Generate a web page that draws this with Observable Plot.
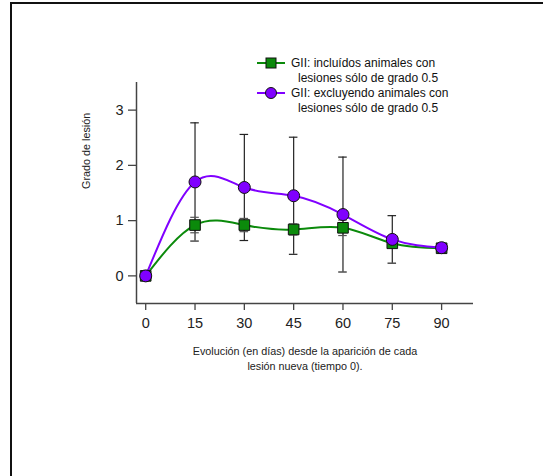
<!DOCTYPE html>
<html>
<head>
<meta charset="utf-8">
<script src="https://cdn.jsdelivr.net/npm/d3@7"></script>
<script src="https://cdn.jsdelivr.net/npm/@observablehq/plot@0.6"></script>
<style>
  html, body { margin: 0; padding: 0; background: #fff; }
  #wrap { position: relative; width: 543px; height: 476px; overflow: hidden; font-family: "Liberation Sans", Arial, sans-serif; }
  #frame { position: absolute; left: 10px; top: 2px; width: 600px; height: 600px; border-top: 2px solid #111; border-left: 2px solid #111; box-sizing: border-box; }
  #legend { position: absolute; left: 0; top: 0; font-size: 12px; color: #111; }
  .li { position: absolute; white-space: nowrap; line-height: 13px; height: 13px; }
  .sw { position: absolute; }
  #chart { position: absolute; left: 0; top: 0; }
</style>
</head>
<body>
<div id="wrap">
  <div id="chart"></div>
  <div id="frame"></div>
  <div id="legend"></div>
</div>
<script>
// ---- data ----
const days = [0, 15, 30, 45, 60, 75, 90];
const incluidos = [0, 0.92, 0.92, 0.84, 0.87, 0.59, 0.50];
const incluidosErr = [0, 0.14, 0.12, 0.10, 0.14, 0.06, 0];
const excluyendo = [0, 1.70, 1.60, 1.45, 1.11, 0.66, 0.51];
const excluyendoErr = [0, 1.07, 0.96, 1.06, 1.04, 0.43, 0];
const xTicks = [0, 15, 30, 45, 60, 75, 90];
const yTicks = [0, 1, 2, 3];
const seriesNames = ["GII: incluídos animales con\nlesiones sólo de grado 0.5", "GII: excluyendo animales con\nlesiones sólo de grado 0.5"];
const xTitle1 = "Evolución (en días) desde la aparición de cada";
const xTitle2 = "lesión nueva (tiempo 0).";
const yTitle = "Grado de lesión";

const green = "#0b8a0b";
const purple = "#8000ff";

const A = days.map((d, i) => ({x: d, y: incluidos[i], e: incluidosErr[i]}));
const B = days.map((d, i) => ({x: d, y: excluyendo[i], e: excluyendoErr[i]}));
const capW = 1.3;

const chart = Plot.plot({
  width: 543,
  height: 476,
  marginLeft: 136,
  marginRight: 70,
  marginTop: 82,
  marginBottom: 173,
  style: {fontFamily: "'Liberation Sans', Arial, sans-serif", background: "transparent", color: "#222"},
  x: {domain: [-2.8, 99.7], ticks: xTicks, label: null},
  y: {domain: [-0.5, 3.5], ticks: yTicks, label: null},
  marks: [
    Plot.axisX({ticks: xTicks, tickFormat: "d", tickSize: 7, tickPadding: 7, fontSize: 14.5, stroke: "#444", strokeWidth: 1.3, label: null}),
    Plot.axisY({ticks: yTicks, tickFormat: "d", tickSize: 8, tickPadding: 5, fontSize: 14.5, stroke: "#444", strokeWidth: 1.3, label: null}),
    Plot.ruleY([-0.5], {stroke: "#444", strokeWidth: 1.5}),
    Plot.ruleX([-2.8], {stroke: "#444", strokeWidth: 1.5}),
    // error bars - excluyendo
    Plot.ruleX(B.filter(d => d.e > 0), {x: "x", y1: d => d.y - d.e, y2: d => d.y + d.e, stroke: "#222", strokeWidth: 1.2}),
    Plot.ruleY(B.filter(d => d.e > 0), {y: d => d.y - d.e, x1: d => d.x - capW, x2: d => d.x + capW, stroke: "#222", strokeWidth: 1.2}),
    Plot.ruleY(B.filter(d => d.e > 0), {y: d => d.y + d.e, x1: d => d.x - capW, x2: d => d.x + capW, stroke: "#222", strokeWidth: 1.2}),
    // error bars - incluidos
    Plot.ruleX(A.filter(d => d.e > 0), {x: "x", y1: d => d.y - d.e, y2: d => d.y + d.e, stroke: "#555", strokeWidth: 1.2}),
    Plot.ruleY(A.filter(d => d.e > 0), {y: d => d.y - d.e, x1: d => d.x - capW, x2: d => d.x + capW, stroke: "#555", strokeWidth: 1.2}),
    Plot.ruleY(A.filter(d => d.e > 0), {y: d => d.y + d.e, x1: d => d.x - capW, x2: d => d.x + capW, stroke: "#555", strokeWidth: 1.2}),
    // lines
    Plot.line(A, {x: "x", y: "y", curve: "natural", stroke: green, strokeWidth: 2}),
    Plot.line(B, {x: "x", y: "y", curve: "natural", stroke: purple, strokeWidth: 2}),
    // markers
    Plot.dot(A, {x: "x", y: "y", symbol: "square", r: 6, fill: green, stroke: "#111", strokeWidth: 1}),
    Plot.dot(B, {x: "x", y: "y", symbol: "circle", r: 6, fill: purple, stroke: "#111", strokeWidth: 1}),
    // axis titles
    Plot.text([xTitle1], {frameAnchor: "bottom", dy: 51, fontSize: 10.8, fill: "#222"}),
    Plot.text([xTitle2], {frameAnchor: "bottom", dy: 66, fontSize: 10.8, fill: "#222"}),
    Plot.text([yTitle], {frameAnchor: "left", dx: -50, dy: -4, rotate: -90, fontSize: 10.8, fill: "#222"})
  ]
});
document.getElementById("chart").appendChild(chart);

// legend
const legend = document.getElementById("legend");
const items = [
  {name: seriesNames[0], color: green, sym: "square", cy: 63},
  {name: seriesNames[1], color: purple, sym: "circle", cy: 93}
];
items.forEach(it => {
  const sw = document.createElementNS("http://www.w3.org/2000/svg", "svg");
  sw.setAttribute("width", 30); sw.setAttribute("height", 16);
  sw.setAttribute("class", "sw");
  sw.style.left = "256px"; sw.style.top = (it.cy - 8) + "px";
  const mk = it.sym === "square"
    ? `<rect x="10" y="3" width="10" height="10" fill="${it.color}" stroke="#111" stroke-width="1"/>`
    : `<circle cx="15" cy="8" r="5.5" fill="${it.color}" stroke="#111" stroke-width="1"/>`;
  sw.innerHTML = `<line x1="1" x2="29" y1="8" y2="8" stroke="${it.color}" stroke-width="2"/>` + mk;
  legend.appendChild(sw);
  const [l1, l2] = it.name.split("\n");
  const t1 = document.createElement("div");
  t1.className = "li"; t1.textContent = l1;
  t1.style.left = "291px"; t1.style.top = (it.cy - 6.5) + "px";
  legend.appendChild(t1);
  const t2 = document.createElement("div");
  t2.className = "li"; t2.textContent = l2;
  t2.style.left = "298px"; t2.style.top = (it.cy + 8.5) + "px";
  legend.appendChild(t2);
});
</script>
</body>
</html>
